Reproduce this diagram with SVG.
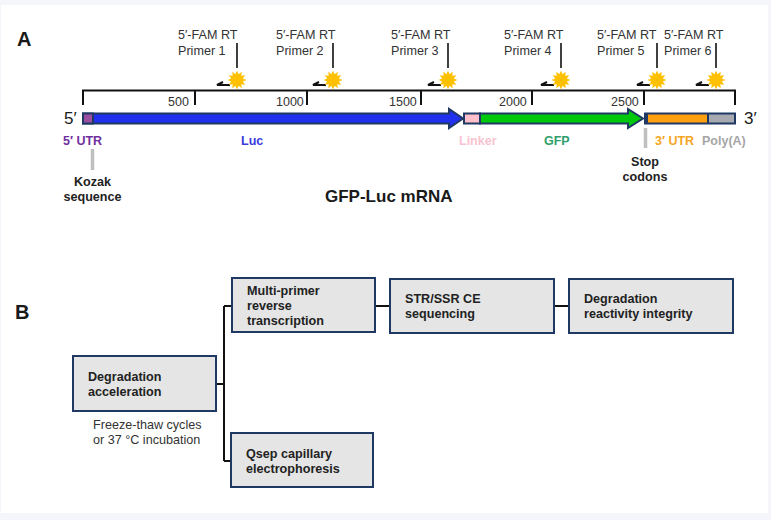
<svg xmlns="http://www.w3.org/2000/svg" xmlns:xlink="http://www.w3.org/1999/xlink" width="771" height="520" viewBox="0 0 771 520">
<style>
text{font-family:"Liberation Sans",Arial,sans-serif;fill:#1a1a1a}
.t{font-size:12.600px;fill:#333}
.n{font-size:12.500px;fill:#333}
.b{font-size:12.600px;font-weight:700;fill:#222}
.lab{font-size:12.500px;font-weight:700}
.box{fill:#e5e5e5;stroke:#1f3864;stroke-width:2}
.ax{fill:none;stroke:#111;stroke-width:2}
.pl{fill:none;stroke:#111;stroke-width:1.6}
.hl{fill:none;stroke:#111;stroke-width:2}
.gb{fill:none;stroke:#bfbfbf;stroke-width:3.5}
.seq{stroke:#1f3864;stroke-width:2}
</style>
<defs>
<g id="star"><polygon fill="#ffc000" points="9.500,0 5.800,1.550 8.230,4.750 4.240,4.240 4.750,8.230 1.550,5.800 0,9.500 -1.550,5.800 -4.750,8.230 -4.240,4.240 -8.230,4.750 -5.800,1.550 -9.500,0 -5.800,-1.550 -8.230,-4.750 -4.240,-4.240 -4.750,-8.230 -1.550,-5.800 0,-9.500 1.550,-5.800 4.750,-8.230 4.240,-4.240 8.230,-4.750 5.800,-1.550"/></g>
</defs>
<rect width="771" height="520" fill="#f5f6fc"/>
<rect x="1" y="5" width="767" height="508" fill="#ffffff"/>
<text x="17" y="46" style="font-size:20px;font-weight:700">A</text>
<text x="15" y="319" style="font-size:20px;font-weight:700">B</text>

<g id="connectors">
<path class="ax" d="M83 105V90.500H735V105M195 90.500V105M307 90.500V105M421 90.500V105M532 90.500V105M644 90.500V105"/>
<path class="pl" d="M237 43V68M333 43V68M448 43V68M561 43V68M657 43V68M716 43V68"/>
<path class="hl" d="M230 85H217L223 82M326 85H313L319 82M441 85H428L434 82M554 85H541L547 82M650 85H637L643 82M709 85H696L702 82"/>
<path class="gb" d="M92.500 149V170M645.500 128V148"/>
<path class="ax" d="M217 384H224M224 306V461M224 306H231M224 461H230M375 306H390M555 306H569"/>
</g>

<g id="primer-1"><use xlink:href="#star" href="#star" x="237" y="80"/><text class="t" x="178" y="39">5′-FAM RT</text><text class="t" x="178" y="55">Primer 1</text></g>
<g id="primer-2"><use xlink:href="#star" href="#star" x="333" y="80"/><text class="t" x="276" y="39">5′-FAM RT</text><text class="t" x="276" y="55">Primer 2</text></g>
<g id="primer-3"><use xlink:href="#star" href="#star" x="448" y="80"/><text class="t" x="391" y="39">5′-FAM RT</text><text class="t" x="391" y="55">Primer 3</text></g>
<g id="primer-4"><use xlink:href="#star" href="#star" x="561" y="80"/><text class="t" x="504" y="39">5′-FAM RT</text><text class="t" x="504" y="55">Primer 4</text></g>
<g id="primer-5"><use xlink:href="#star" href="#star" x="657" y="80"/><text class="t" x="597" y="39">5′-FAM RT</text><text class="t" x="597" y="55">Primer 5</text></g>
<g id="primer-6"><use xlink:href="#star" href="#star" x="716" y="80"/><text class="t" x="664" y="39">5′-FAM RT</text><text class="t" x="664" y="55">Primer 6</text></g>

<g id="ticks">
<text class="n" x="168" y="106">500</text>
<text class="n" x="276" y="106">1000</text>
<text class="n" x="389" y="106">1500</text>
<text class="n" x="499" y="106">2000</text>
<text class="n" x="611" y="106">2500</text>
</g>

<g id="mrna">
<text x="64" y="124" style="font-size:17px">5′</text>
<text x="744" y="124" style="font-size:17px">3′</text>
<polygon class="seq" fill="#2030ee" points="83,113.500 449,113.500 449,109 463,118.500 449,128 449,123.500 83,123.500"/>
<rect class="seq" x="83" y="113.500" width="10" height="10" fill="#9c4fa0"/>
<rect class="seq" x="464" y="113.500" width="16" height="10" fill="#ffc0cb"/>
<polygon class="seq" fill="#00c80a" points="480,113.500 628,113.500 628,109 643,118.500 628,128 628,123.500 480,123.500"/>
<rect x="644" y="112.500" width="92" height="12" fill="#1f3864"/>
<rect x="648" y="114.500" width="59" height="8" fill="#ffa010"/>
<rect x="709" y="114.500" width="25" height="8" fill="#a6a9b0"/>
</g>

<g id="labels">
<text class="lab" x="63" y="145" style="fill:#7030a0">5′ UTR</text>
<text class="lab" x="241" y="145" style="fill:#3a3ae0">Luc</text>
<text class="lab" x="459" y="145" style="fill:#f8c3d0">Linker</text>
<text class="lab" x="544" y="145" style="fill:#2e9e6a">GFP</text>
<text class="lab" x="655" y="145" style="fill:#f5a623">3′ UTR</text>
<text class="lab" x="702" y="145" style="fill:#a6a6a6">Poly(A)</text>
<text class="b" x="92.500" y="186" text-anchor="middle">Kozak</text>
<text class="b" x="92.500" y="201" text-anchor="middle">sequence</text>
<text class="b" x="645" y="166" text-anchor="middle">Stop</text>
<text class="b" x="645" y="181" text-anchor="middle">codons</text>
<text x="325" y="202" style="font-size:17px;font-weight:700">GFP-Luc mRNA</text>
</g>

<g id="degradation-acceleration"><rect class="box" x="73" y="356" width="143" height="55"/><text class="b" x="88" y="381">Degradation</text><text class="b" x="88" y="396">acceleration</text></g>
<text class="t" x="93" y="429">Freeze-thaw cycles</text>
<text class="t" x="93" y="444">or 37 °C incubation</text>
<g id="multi-primer"><rect class="box" x="232" y="278" width="143" height="54"/><text class="b" x="247" y="295">Multi-primer</text><text class="b" x="247" y="310">reverse</text><text class="b" x="247" y="325">transcription</text></g>
<g id="str-ssr"><rect class="box" x="390" y="279" width="164" height="54"/><text class="b" x="405" y="303">STR/SSR CE</text><text class="b" x="405" y="318">sequencing</text></g>
<g id="reactivity"><rect class="box" x="569" y="279" width="164" height="54"/><text class="b" x="584" y="303">Degradation</text><text class="b" x="584" y="318">reactivity integrity</text></g>
<g id="qsep"><rect class="box" x="231" y="433" width="142" height="54"/><text class="b" x="246" y="458">Qsep capillary</text><text class="b" x="246" y="473">electrophoresis</text></g>
</svg>
